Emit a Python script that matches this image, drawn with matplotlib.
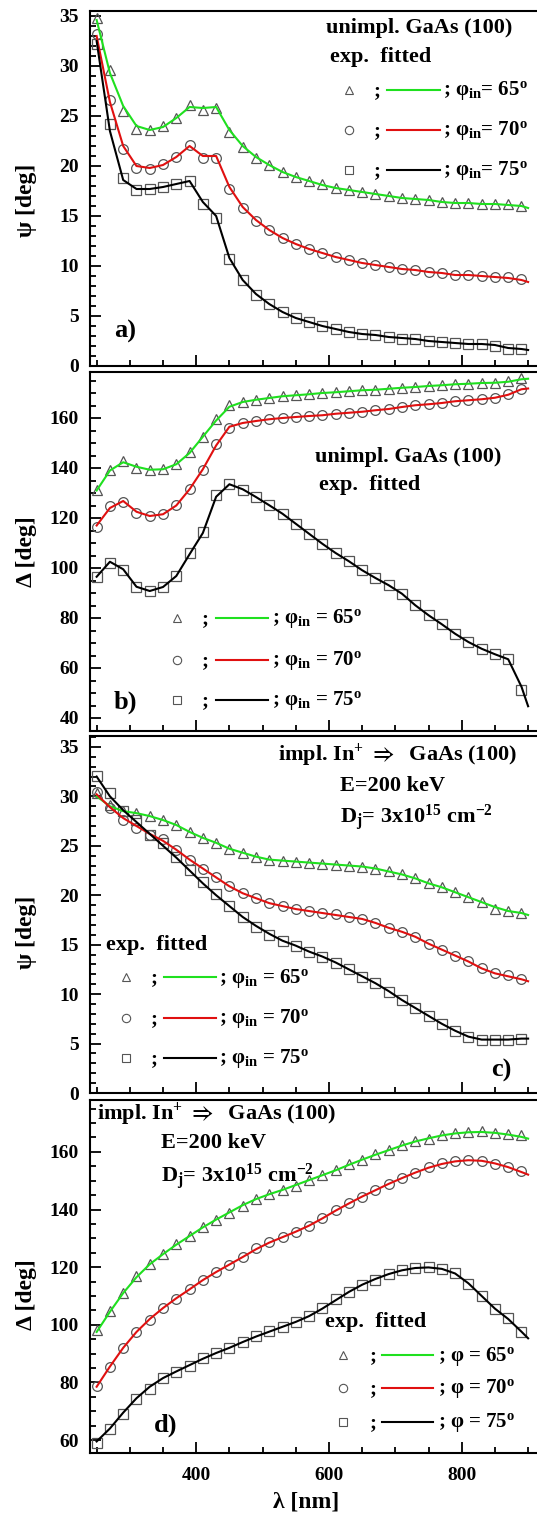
import matplotlib
matplotlib.use("Agg")
import matplotlib.pyplot as plt
from matplotlib.ticker import MultipleLocator
from matplotlib.lines import Line2D

plt.rcParams['font.family'] = ['Liberation Serif', 'DejaVu Serif']
plt.rcParams['font.weight'] = 'bold'
plt.rcParams['mathtext.fontset'] = 'custom'
plt.rcParams['mathtext.rm'] = 'Liberation Serif:bold'
plt.rcParams['mathtext.it'] = 'Liberation Serif:bold'
plt.rcParams['mathtext.bf'] = 'Liberation Serif:bold'
plt.rcParams['mathtext.fallback'] = 'stix'

# ---------------- data ----------------
wl_exp = [250, 270, 290, 310, 330, 350, 370, 390, 410, 430, 450, 470, 490, 510, 530, 550,
          570, 590, 610, 630, 650, 670, 690, 710, 730, 750, 770, 790, 810, 830, 850, 870, 890]
wl_fit = wl_exp + [900]

# panel a: psi, unimplanted
a_exp_65 = [34.8, 29.6, 25.5, 23.7, 23.6, 24.0, 24.8, 26.1, 25.6, 25.8, 23.4, 21.9, 20.8, 20.1, 19.4, 18.9,
            18.5, 18.2, 17.8, 17.6, 17.4, 17.2, 17.0, 16.8, 16.7, 16.6, 16.4, 16.3, 16.3, 16.2, 16.2, 16.2, 16.0]
a_exp_70 = [33.2, 26.6, 21.7, 19.8, 19.7, 20.2, 20.9, 22.1, 20.8, 20.8, 17.7, 15.8, 14.5, 13.6, 12.8, 12.2,
            11.7, 11.3, 10.9, 10.6, 10.3, 10.1, 9.9, 9.7, 9.6, 9.4, 9.3, 9.1, 9.1, 9.0, 8.9, 8.9, 8.7]
a_exp_75 = [32.2, 24.2, 18.8, 17.6, 17.7, 17.9, 18.2, 18.5, 16.2, 14.8, 10.7, 8.6, 7.1, 6.2, 5.4, 4.8,
            4.4, 4.0, 3.7, 3.4, 3.2, 3.1, 2.9, 2.7, 2.7, 2.5, 2.4, 2.3, 2.2, 2.2, 2.0, 1.7, 1.7]
a_fit_65 = [34.6, 29.3, 26.0, 24.0, 23.6, 23.9, 24.8, 25.9, 25.8, 25.9, 23.6, 22.0, 20.9, 20.1, 19.4, 18.9,
            18.5, 18.1, 17.8, 17.6, 17.4, 17.2, 17.0, 16.8, 16.7, 16.6, 16.4, 16.3, 16.3, 16.2, 16.2, 16.1, 16.0, 15.8]
a_fit_70 = [33.0, 26.4, 22.0, 20.0, 19.8, 20.1, 20.9, 22.0, 21.0, 21.0, 17.9, 15.9, 14.6, 13.6, 12.8, 12.2,
            11.7, 11.3, 10.9, 10.6, 10.3, 10.1, 9.9, 9.7, 9.6, 9.4, 9.3, 9.1, 9.1, 9.0, 8.9, 8.8, 8.6, 8.4]
a_fit_75 = [32.5, 23.5, 18.6, 17.7, 17.7, 17.9, 18.2, 18.5, 16.4, 15.0, 10.8, 8.6, 7.2, 6.2, 5.4, 4.8,
            4.4, 4.0, 3.7, 3.4, 3.2, 3.1, 2.9, 2.8, 2.7, 2.5, 2.4, 2.3, 2.2, 2.2, 2.1, 1.8, 1.7, 1.6]

# panel b: delta, unimplanted
b_exp_65 = [131.1, 139.3, 142.8, 140.1, 139.3, 139.7, 141.7, 146.4, 152.4, 159.7, 165.1, 166.4, 167.3, 168.0,
            168.7, 169.1, 169.5, 170.0, 170.3, 170.7, 171.1, 171.3, 171.7, 172.1, 172.4, 172.8, 173.1, 173.5,
            173.7, 174.0, 174.1, 174.7, 176.1]
b_exp_70 = [116.4, 124.7, 126.4, 122.0, 120.8, 121.7, 125.1, 131.7, 139.3, 149.7, 156.1, 158.0, 158.8, 159.5,
            160.0, 160.4, 160.8, 161.1, 161.7, 162.1, 162.5, 163.1, 163.6, 164.4, 165.1, 165.5, 166.0, 166.7,
            167.1, 167.5, 168.1, 169.5, 171.7]
b_exp_75 = [96.4, 102.0, 99.3, 92.4, 90.7, 92.4, 96.8, 106.0, 114.4, 129.1, 133.5, 131.3, 128.4, 125.1,
            121.7, 117.7, 113.7, 109.7, 106.0, 102.7, 99.1, 96.0, 93.1, 89.7, 85.1, 81.1, 77.5, 73.7,
            70.4, 67.7, 65.5, 63.7, 51.3]
b_fit_65 = [131.0, 139.0, 142.3, 140.5, 139.3, 139.5, 141.5, 146.0, 152.5, 159.0, 164.5, 166.4, 167.3, 168.0,
            168.7, 169.1, 169.5, 170.0, 170.3, 170.7, 171.1, 171.3, 171.7, 172.1, 172.4, 172.8, 173.1, 173.5,
            173.7, 174.0, 174.1, 174.5, 175.5, 175.7]
b_fit_70 = [117.0, 124.0, 126.8, 122.5, 120.8, 121.5, 125.0, 131.5, 139.5, 149.0, 156.5, 158.0, 158.8, 159.5,
            160.0, 160.4, 160.8, 161.1, 161.7, 162.1, 162.5, 163.1, 163.6, 164.4, 165.1, 165.5, 166.0, 166.7,
            167.1, 167.5, 168.1, 169.3, 171.5, 171.8]
b_fit_75 = [96.5, 102.5, 99.5, 92.5, 90.8, 92.4, 96.8, 105.5, 114.0, 128.5, 133.5, 131.5, 128.4, 125.1,
            121.7, 117.7, 113.7, 109.7, 106.0, 102.7, 99.1, 96.0, 93.1, 89.7, 85.1, 81.1, 77.5, 73.7,
            70.4, 67.7, 65.5, 63.5, 52.5, 44.7]

# panel c: psi, implanted
c_exp_65 = [30.3, 29.1, 28.5, 28.3, 28.0, 27.6, 27.1, 26.4, 25.8, 25.3, 24.7, 24.3, 23.9, 23.6, 23.5, 23.4,
            23.3, 23.2, 23.1, 23.0, 22.9, 22.7, 22.4, 22.1, 21.7, 21.2, 20.8, 20.3, 19.8, 19.3, 18.6, 18.4, 18.2]
c_exp_70 = [30.4, 28.8, 27.6, 26.8, 26.1, 25.7, 24.6, 23.6, 22.7, 21.8, 20.9, 20.2, 19.7, 19.2, 18.9, 18.6,
            18.4, 18.2, 18.1, 17.8, 17.6, 17.2, 16.7, 16.3, 15.8, 15.1, 14.5, 13.9, 13.3, 12.6, 12.1, 11.9, 11.5]
c_exp_75 = [32.1, 30.3, 28.5, 27.6, 26.1, 25.3, 23.9, 22.6, 21.3, 20.1, 18.9, 17.8, 16.8, 16.0, 15.4, 14.9,
            14.3, 13.8, 13.1, 12.5, 11.7, 11.1, 10.2, 9.4, 8.6, 7.8, 7.0, 6.3, 5.7, 5.4, 5.4, 5.4, 5.5]
c_fit_65 = [30.0, 29.0, 28.5, 28.3, 28.0, 27.6, 27.1, 26.4, 25.8, 25.3, 24.7, 24.3, 23.9, 23.6, 23.5, 23.4,
            23.3, 23.2, 23.1, 23.0, 22.9, 22.7, 22.4, 22.1, 21.7, 21.2, 20.8, 20.3, 19.8, 19.3, 18.8, 18.4, 18.2, 18.0]
c_fit_70 = [30.2, 28.9, 27.8, 27.0, 26.2, 25.5, 24.6, 23.6, 22.7, 21.8, 20.9, 20.2, 19.7, 19.2, 18.9, 18.6,
            18.4, 18.2, 18.0, 17.8, 17.6, 17.2, 16.7, 16.3, 15.8, 15.1, 14.5, 13.9, 13.3, 12.6, 12.1, 11.8, 11.5, 11.3]
c_fit_75 = [32.0, 30.0, 28.6, 27.4, 26.2, 25.0, 23.8, 22.5, 21.2, 20.0, 18.9, 17.8, 16.9, 16.1, 15.4, 14.9,
            14.3, 13.8, 13.2, 12.5, 11.8, 11.1, 10.3, 9.4, 8.6, 7.8, 7.0, 6.3, 5.7, 5.4, 5.4, 5.4, 5.5, 5.5]

# panel d: delta, implanted
d_exp_65 = [98.2, 104.7, 111.1, 116.9, 121.0, 124.5, 127.9, 130.8, 134.0, 136.5, 138.8, 141.3, 143.8, 145.3,
            146.7, 148.2, 150.2, 151.9, 153.6, 155.7, 157.3, 159.1, 160.6, 162.3, 163.7, 164.6, 165.8, 166.6,
            166.9, 167.2, 166.6, 166.1, 165.8]
d_exp_70 = [78.7, 85.2, 91.8, 97.6, 101.6, 105.9, 109.1, 112.3, 115.5, 118.2, 120.7, 123.6, 126.5, 128.6,
            130.3, 132.3, 134.3, 136.9, 139.8, 142.1, 144.4, 146.7, 148.8, 151.0, 152.8, 154.6, 156.0, 156.8,
            157.3, 156.9, 155.7, 154.8, 153.3]
d_exp_75 = [58.8, 63.8, 69.0, 74.1, 77.6, 81.4, 83.7, 85.8, 88.3, 90.3, 92.0, 93.9, 96.1, 97.8,
            99.1, 101.0, 103.0, 105.7, 108.8, 111.4, 113.8, 115.7, 117.5, 119.0, 119.8, 119.9, 119.3, 117.8,
            114.3, 109.9, 105.4, 102.2, 97.6]
d_fit_65 = [97.5, 104.5, 111.0, 116.5, 121.0, 124.5, 127.8, 130.8, 133.8, 136.5, 139.0, 141.5, 143.6, 145.3,
            146.8, 148.5, 150.2, 151.9, 153.6, 155.5, 157.3, 159.0, 160.6, 162.2, 163.6, 164.7, 165.7, 166.4,
            166.8, 166.9, 166.6, 166.0, 165.2, 164.6]
d_fit_70 = [78.5, 85.5, 92.0, 97.5, 102.0, 105.8, 109.2, 112.3, 115.5, 118.3, 120.9, 123.5, 126.2, 128.5,
            130.4, 132.3, 134.4, 136.9, 139.6, 142.1, 144.5, 146.7, 148.9, 150.9, 152.8, 154.5, 155.8, 156.7,
            157.1, 156.9, 156.0, 154.7, 153.0, 152.1]
d_fit_75 = [59.5, 64.0, 69.5, 74.5, 78.5, 81.5, 83.8, 86.0, 88.2, 90.2, 92.0, 94.0, 95.9, 97.6,
            99.3, 101.0, 103.0, 105.6, 108.5, 111.4, 113.9, 115.9, 117.6, 118.9, 119.7, 119.9, 119.4, 117.8,
            114.4, 110.0, 105.6, 102.0, 97.6, 95.3]

angles = ["65", "70", "75"]
x_ticklabels = ["400", "600", "800"]

# ---------------- styling ----------------
W, H = 537, 1515
MARKERS = ['^', 'o', 's']
LCOLORS = ['#1fe01f', '#e01010', '#000000']
MEC = '#555555'

fig = plt.figure(figsize=(W / 100, H / 100), dpi=100)

def fx(px):
    return px / W

def fy(py):
    return 1 - py / H

def make_axes(top, bottom):
    left = 90
    return fig.add_axes([fx(left), fy(bottom), fx(W - left) + 0.002, (bottom - top) / H])

panels = [
    dict(top=11, bottom=366, ylim=(0, 35.5), major=5, minor=1, ylabel='ψ [deg]', ly=0.466,
         exp=[a_exp_65, a_exp_70, a_exp_75], fit=[a_fit_65, a_fit_70, a_fit_75]),
    dict(top=372, bottom=731, ylim=(34.8, 178.4), major=20, minor=5, ylabel='Δ [deg]', ly=0.5,
         exp=[b_exp_65, b_exp_70, b_exp_75], fit=[b_fit_65, b_fit_70, b_fit_75]),
    dict(top=736, bottom=1093, ylim=(0, 36.1), major=5, minor=1, ylabel='ψ [deg]', ly=0.451,
         exp=[c_exp_65, c_exp_70, c_exp_75], fit=[c_fit_65, c_fit_70, c_fit_75]),
    dict(top=1100, bottom=1453, ylim=(55.5, 178.0), major=20, minor=5, ylabel='Δ [deg]', ly=0.45,
         exp=[d_exp_65, d_exp_70, d_exp_75], fit=[d_fit_65, d_fit_70, d_fit_75]),
]

axes = []
for i, p in enumerate(panels):
    ax = make_axes(p['top'], p['bottom'])
    axes.append(ax)
    for k in range(3):
        ax.plot(wl_exp, p['exp'][k], linestyle='none', marker=MARKERS[k], ms=7 if k != 2 else 6.5,
                mfc='none', mec=MEC, mew=0.9, zorder=2, clip_on=False)
        ax.plot(wl_fit, p['fit'][k], color=LCOLORS[k], lw=1.5, zorder=3)
    ax.set_xlim(240, 915)
    ax.set_ylim(*p['ylim'])
    ax.xaxis.set_major_locator(MultipleLocator(200))
    ax.xaxis.set_minor_locator(MultipleLocator(50))
    ax.yaxis.set_major_locator(MultipleLocator(p['major']))
    ax.yaxis.set_minor_locator(MultipleLocator(p['minor']))
    ax.tick_params(which='both', direction='in', top=False, right=False, width=1.3)
    ax.tick_params(which='major', length=8)
    ax.tick_params(which='minor', length=4.5)
    ax.tick_params(axis='y', labelsize=14, pad=8)
    ax.tick_params(axis='x', labelsize=14, pad=10)
    for s in ['left', 'bottom', 'top']:
        ax.spines[s].set_linewidth(1.5)
    ax.spines['right'].set_visible(False)
    ax.set_ylabel(p['ylabel'], fontsize=17, fontweight='bold')
    ax.yaxis.set_label_coords(-0.118, p['ly'])
    if i < 3:
        ax.tick_params(axis='x', labelbottom=False)
    else:
        ax.set_xticks([400, 600, 800])
        ax.set_xticklabels(x_ticklabels)
        ax.set_xlabel('λ [nm]', fontsize=17, fontweight='bold')
        ax.xaxis.set_label_coords(0.483, -0.108)

TXT = dict(fontweight='bold', transform=fig.transFigure)

def t(px, py, s, size=15.5, ha='center', va='center'):
    fig.text(fx(px), fy(py), s, fontsize=size, ha=ha, va=va, **TXT)

def legend_rows(mx, sx, lx0, lx1, tx, ys, fmt):
    for k in range(3):
        y = ys[k]
        fig.add_artist(Line2D([fx(mx)], [fy(y)], marker=MARKERS[k], ms=6 if k != 2 else 5.5,
                              mfc='none', mec=MEC, mew=0.8, linestyle='none', transform=fig.transFigure))
        t(sx, y + 1, ';', size=15)
        fig.add_artist(Line2D([fx(lx0), fx(lx1)], [fy(y), fy(y)], color=LCOLORS[k], lw=1.5,
                              transform=fig.transFigure))
        t(tx, y + 1, fmt.format(angles[k]), size=15, ha='left')

# panel a
t(419, 28, 'unimpl. GaAs (100)', size=16)
t(330, 57, 'exp.  fitted', size=16, ha='left')
legend_rows(349, 377, 387, 440, 443, [90, 130, 170], '; $φ_{{in}}$= ${}^{{o}}$')
t(125, 331, 'a)', size=19)

# panel b
t(408, 457, 'unimpl. GaAs (100)', size=16)
t(319, 485, 'exp.  fitted', size=16, ha='left')
legend_rows(177, 205, 216, 268, 272, [618, 660, 700], '; $φ_{{in}}$ = ${}^{{o}}$')
t(125, 702, 'b)', size=19)

# panel c
t(397, 755, 'impl. In$^{+}$ $\\Rightarrow$  GaAs (100)', size=16)
t(340, 786, 'E=200 keV', size=16, ha='left')
t(340, 818, 'D$_{j}$= 3x10$^{15}$ cm$^{-2}$', size=16, ha='left')
t(106, 945, 'exp.  fitted', size=16, ha='left')
legend_rows(126, 154, 164, 216, 219, [977, 1018, 1058], '; $φ_{{in}}$ = ${}^{{o}}$')
t(501, 1070, 'c)', size=19)

# panel d
t(216, 1114, 'impl. In$^{+}$ $\\Rightarrow$  GaAs (100)', size=16)
t(161, 1143, 'E=200 keV', size=16, ha='left')
t(161, 1177, 'D$_{j}$= 3x10$^{15}$ cm$^{-2}$', size=16, ha='left')
t(325, 1322, 'exp.  fitted', size=16, ha='left')
legend_rows(343, 373, 382, 433, 438, [1355, 1388, 1422], '; φ = ${}^{{o}}$')
t(166, 1425, 'd)', size=19)

fig.savefig('out.png', dpi=100)
